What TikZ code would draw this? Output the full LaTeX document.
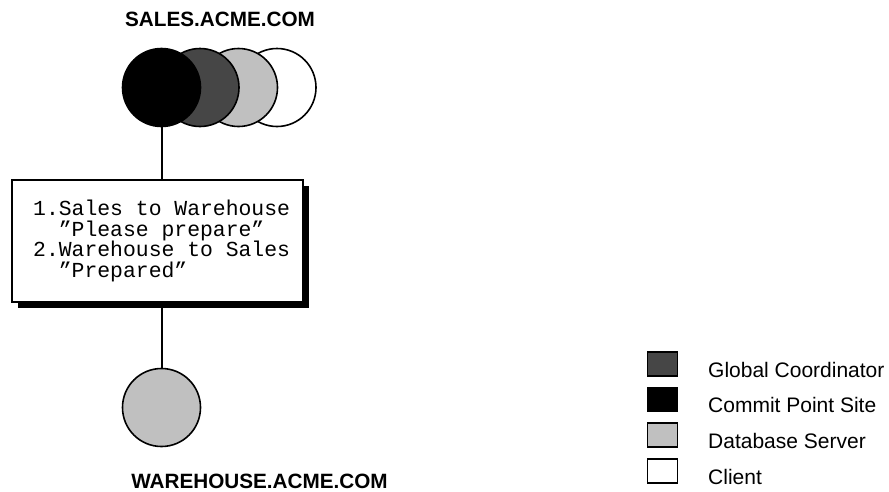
\documentclass[tikz,border=0pt]{standalone}
\usepackage{fontspec}
\setmainfont{Liberation Sans}
\newfontfamily\monof{Liberation Mono}
\usetikzlibrary{shadows}
\definecolor{darkg}{HTML}{464646}
\definecolor{lightg}{HTML}{C0C0C0}
\tikzset{
  site/.style={circle, draw=black, line width=1.6pt, minimum size=78pt, inner sep=0pt},
  conn/.style={line width=2pt},
  title/.style={font=\fontsize{20.7}{24}\selectfont\bfseries, anchor=base, inner sep=0pt},
  legbox/.style={draw=black, line width=1.5pt, minimum width=30pt, minimum height=24pt, inner sep=0pt},
  legtext/.style={font=\fontsize{21}{24}\selectfont, anchor=base west, inner sep=0pt},
  msgbox/.style={draw=black, fill=white, line width=1.5pt, minimum width=291pt, minimum height=122pt, inner sep=0pt,
    drop shadow={shadow xshift=6pt, shadow yshift=-6pt, fill=black, opacity=1}},
  msgtext/.style={font=\monof\fontsize{21.4}{20.5}\selectfont, align=left, inner sep=0pt}
}
\begin{document}
\begin{tikzpicture}[x=1pt, y=-1pt]
\useasboundingbox (0,0) rectangle (889,491);
% titles
\node[title] (tsales) at (220,26.5) {SALES.ACME.COM};
\node[title] (twh) at (259.5,488) {WAREHOUSE.ACME.COM};
% top sites
\node[site, fill=white] (c4) at (277,87.5) {};
\node[site, fill=lightg] (c3) at (238.5,87.5) {};
\node[site, fill=darkg] (c2) at (200,87.5) {};
\node[site, fill=black] (c1) at (161.5,87.5) {};
% message box
\node[msgbox] (box) at (157.5,241) {};
\node[msgtext, anchor=north west] (msg) at (33,200) {1.Sales to Warehouse\\\hphantom{1.}”Please prepare”\\2.Warehouse to Sales\\\hphantom{2.}”Prepared”};
% bottom site
\node[site, fill=lightg] (c5) at (161.5,407.5) {};
% connectors
\draw[conn] (c1.south) -- (c1.south |- box.north);
\draw[conn] (box.south -| c5.north) -- (c5.north);
% legend
\node[legbox, fill=darkg] (l1) at (662.5,364) {};
\node[legbox, fill=black] (l2) at (662.5,399.5) {};
\node[legbox, fill=lightg] (l3) at (662.5,435) {};
\node[legbox, fill=white] (l4) at (662.5,471) {};
\node[legtext] (lt1) at (708,377) {Global Coordinator};
\node[legtext] (lt2) at (708,412.5) {Commit Point Site};
\node[legtext] (lt3) at (708,448.5) {Database Server};
\node[legtext] (lt4) at (708,484) {Client};
\end{tikzpicture}
\end{document}
